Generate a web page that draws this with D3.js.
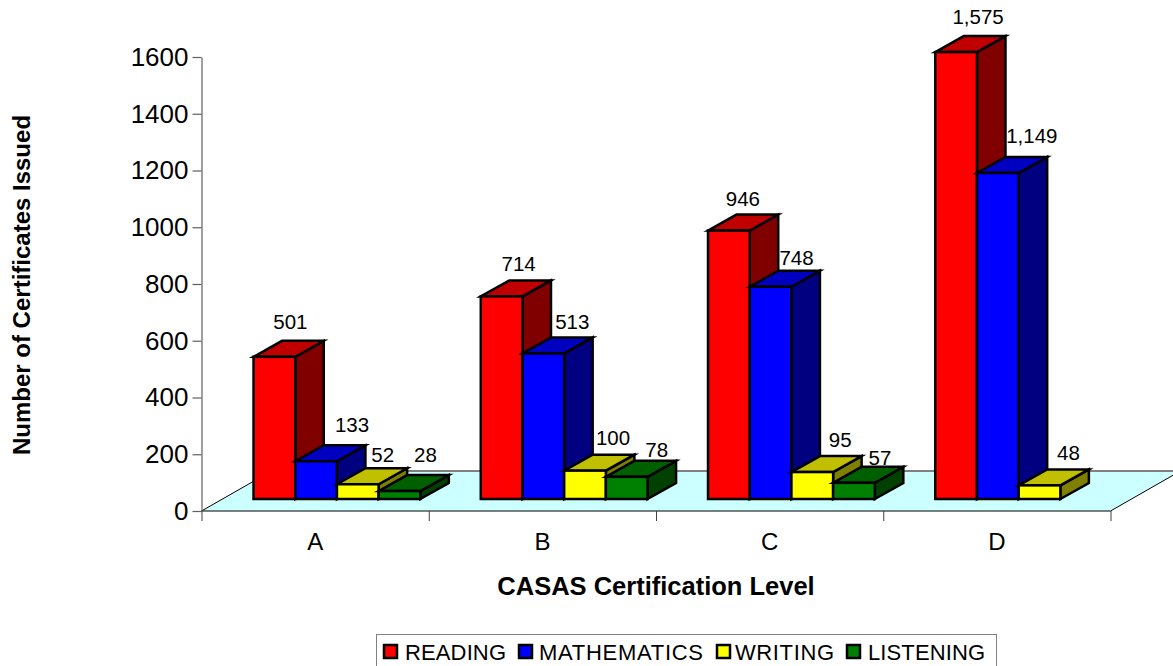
<!DOCTYPE html>
<html>
<head>
<meta charset="utf-8">
<script src="https://cdn.jsdelivr.net/npm/d3@7"></script>
<style>
    html, body { margin: 0; background: #fff; }
    svg { display: block; }
    text { font-family: "Liberation Sans", Arial, sans-serif; fill: #000; }
</style>
</head>
<body>
<svg id="chart" width="1173" height="666"></svg>
<script>
// data (D has no listening bar)
const categories = ["A", "B", "C", "D"]
const seriesNames = ["READING", "MATHEMATICS", "WRITING", "LISTENING"]
const reading = [501, 714, 946, 1575]
const mathematics = [133, 513, 748, 1149]
const writing = [52, 100, 95, 48]
const listening = [28, 78, 57, null]
const yTicks = [0, 200, 400, 600, 800, 1000, 1200, 1400, 1600]

const frontColors = ["#ff0000", "#0000ff", "#ffff00", "#008000"]
const topColors = ["#c00000", "#0000c0", "#c0c000", "#006000"]
const sideColors = ["#800000", "#000080", "#808000", "#004000"]

// label nudges, relative to the centre of each bar's front face / back top edge
const labelDx = [[16, 17, 14, 22], [36, 29, 26, 34], [25, 28, 28, 29], [26, 30, 26, 0]]
const labelDy = [[-19, -17, -16, -19], [-20, -16, -13, -21], [-13, -17, -16, -17], [-20, -11, -9, 0]]

const values = [reading, mathematics, writing, listening]

// plot frame
const plotLeft = 201.5, plotRight = 1110.5, plotTop = 57, plotBottom = 511
const floorDx = 70, floorDy = 40      // depth of the floor
const barDx = 28.5, barDy = 16        // depth of a bar
const baseDx = 21.8, baseDy = 12      // bars stand this far back on the floor

const svg = d3.select("#chart")

const x = d3.scaleBand().domain(categories).range([plotLeft, plotRight])
const xEdges = d3.scaleLinear().domain([0, 4]).range([plotLeft, plotRight])
const xSeries = d3.scaleBand().domain(d3.range(4)).range([0, x.bandwidth()]).paddingOuter(0.725)
const y = d3.scaleLinear().domain([0, 1600]).range([plotBottom, plotTop])

// floor
const floor = svg.append("g")
floor.append("path")
    .attr("d", `M${plotLeft},${plotBottom}L${plotRight},${plotBottom}L${plotRight + floorDx},${plotBottom - floorDy}L${plotLeft + floorDx},${plotBottom - floorDy}Z`)
    .attr("fill", "#ccffff")
floor.append("line")
    .attr("x1", plotLeft + floorDx).attr("x2", plotRight + floorDx)
    .attr("y1", plotBottom - floorDy).attr("y2", plotBottom - floorDy)
    .attr("stroke", "#808080").attr("stroke-width", 2)
floor.append("path")
    .attr("d", `M${plotLeft + floorDx},${plotBottom - floorDy}L${plotLeft},${plotBottom}L${plotRight},${plotBottom}L${plotRight + floorDx},${plotBottom - floorDy}`)
    .attr("fill", "none").attr("stroke", "#000").attr("stroke-width", 1)

// axes
const axisY = svg.append("g")
    .attr("transform", `translate(${plotLeft},0)`)
    .call(d3.axisLeft(y).tickValues(yTicks).tickSize(9).tickPadding(4).tickSizeOuter(0).tickFormat(d3.format("d")))
axisY.selectAll("path, line").attr("stroke", "#606060").attr("stroke-width", 1.2)
axisY.selectAll("text").style("font-size", "26px").style("font-family", '"Liberation Sans"')

const axisEdges = svg.append("g")
    .attr("transform", `translate(0,${plotBottom})`)
    .call(d3.axisBottom(xEdges).ticks(4).tickSize(10).tickFormat(""))
axisEdges.selectAll("path").remove()
axisEdges.selectAll("line").attr("stroke", "#404040").attr("stroke-width", 1)

const axisX = svg.append("g")
    .attr("transform", `translate(0,${plotBottom})`)
    .call(d3.axisBottom(x).tickSize(0).tickPadding(21.5))
axisX.selectAll("path, line").remove()
axisX.selectAll("text").style("font-size", "24px").style("font-family", '"Liberation Sans"')

// bars, left to right so each one covers the side of the previous one
const barW = xSeries.bandwidth()
const barsG = svg.append("g")
    .attr("stroke", "#000").attr("stroke-width", 2.5).attr("stroke-linejoin", "miter")

categories.forEach((cat, c) => {
    seriesNames.forEach((name, s) => {
        const v = values[s][c]
        if (v == null) return
        const x0 = x(cat) + xSeries(s) + baseDx
        const x1 = x0 + barW
        const y0 = y(0) - baseDy
        const y1 = y(v) - baseDy
        const g = barsG.append("g").attr("class", "bar")
        g.append("path").attr("fill", sideColors[s])
            .attr("d", `M${x1},${y0}L${x1 + barDx},${y0 - barDy}L${x1 + barDx},${y1 - barDy}L${x1},${y1}Z`)
        g.append("path").attr("fill", topColors[s])
            .attr("d", `M${x0},${y1}L${x0 + barDx},${y1 - barDy}L${x1 + barDx},${y1 - barDy}L${x1},${y1}Z`)
        g.append("rect").attr("fill", frontColors[s])
            .attr("x", x0).attr("y", y1).attr("width", barW).attr("height", y0 - y1)
    })
})

// value labels
categories.forEach((cat, c) => {
    seriesNames.forEach((name, s) => {
        const v = values[s][c]
        if (v == null) return
        svg.append("text")
            .attr("x", x(cat) + xSeries(s) + baseDx + barW / 2 + labelDx[s][c])
            .attr("y", y(v) - baseDy - barDy + labelDy[s][c])
            .attr("dy", "0.35em")
            .attr("text-anchor", "middle")
            .style("font-size", "20.5px")
            .text(d3.format(",")(v))
    })
})

// axis titles
svg.append("text")
    .attr("transform", "translate(22,285) rotate(-90)")
    .attr("text-anchor", "middle").attr("dy", "0.35em")
    .style("font-size", "24px").style("font-weight", "bold")
    .text("Number of Certificates Issued")
svg.append("text")
    .attr("x", 656).attr("y", 586).attr("dy", "0.35em")
    .attr("text-anchor", "middle")
    .style("font-size", "25.5px").style("font-weight", "bold")
    .text("CASAS Certification Level")

// legend
const legend = svg.append("g")
legend.append("rect")
    .attr("x", 376.5).attr("y", 634.5).attr("width", 620).attr("height", 32)
    .attr("fill", "#fff").attr("stroke", "#808080").attr("stroke-width", 1)
const legendX = [384, 519, 717, 847]
const legendTextX = [405, 539, 735, 868]
const legendTextW = [101, 164, 99, 117]
seriesNames.forEach((name, s) => {
    legend.append("rect")
        .attr("x", legendX[s]).attr("y", 645).attr("width", 13).attr("height", 13)
        .attr("fill", frontColors[s]).attr("stroke", "#000").attr("stroke-width", 2.5)
    legend.append("text")
        .attr("x", legendTextX[s]).attr("y", 652).attr("dy", "0.35em")
        .attr("textLength", legendTextW[s])
        .style("font-size", "22px")
        .text(name)
})
</script>
</body>
</html>
